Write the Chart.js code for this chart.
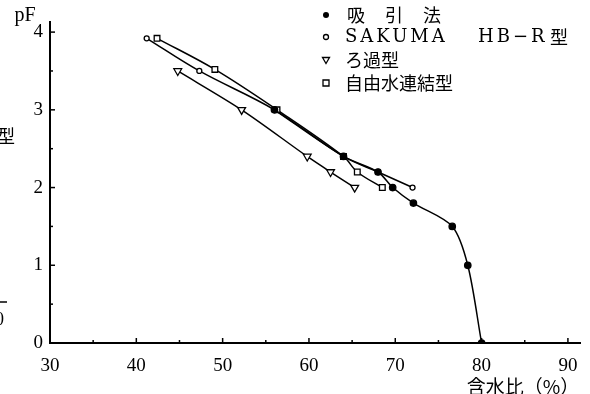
<!DOCTYPE html>
<html>
<head>
<meta charset="utf-8">
<script src="https://cdn.jsdelivr.net/npm/chart.js@4"></script>
<style>
body { margin: 0; background: #fff; }
</style>
</head>
<body>
<canvas id="myChart" width="590" height="394"></canvas>
<script>
// 含水比 (%) と pF
const seriesNames = ["吸　引　法", "SAKUMA　HB−R型", "ろ過型", "自由水連結型"];

const suctionX = [56, 64, 68, 69.7, 72.1, 76.6, 78.4, 80];
const suctionY = [3.0, 2.4, 2.2, 2.0, 1.8, 1.5, 1.0, 0];

const sakumaX = [41.2, 47.3, 56, 64, 68, 72];
const sakumaY = [3.92, 3.5, 3.0, 2.4, 2.2, 2.0];

const filterX = [44.8, 52.2, 59.8, 62.5, 65.3];
const filterY = [3.5, 3.0, 2.4, 2.2, 2.0];

const freeX = [42.4, 49.1, 56.3, 64, 65.6, 68.5];
const freeY = [3.92, 3.52, 3.0, 2.4, 2.2, 2.0];

const xTicks = [30, 40, 50, 60, 70, 80, 90];
const yTicks = [0, 1, 2, 3, 4];

const toPoints = (xs, ys) => xs.map((x, i) => ({x: x, y: ys[i]}));

const serif = "'Liberation Serif', 'DejaVu Serif', serif";
const cjk = "'Noto Sans CJK JP', sans-serif";

// legend text pieces: [text, x offset, font, letter spacing]
const legendPieces = [
    [["吸", 2, cjk, 0], ["引", 40, cjk, 0], ["法", 78, cjk, 0]],
    [["SAKUMA", 0, "'DejaVu Serif', serif", 3], ["HB−R", 133, "'DejaVu Serif', serif", 3], ["型", 205, cjk, 0]],
    [["ろ過型", 0, cjk, 0]],
    [["自由水連結型", 0, cjk, 0]]
];

// inward ticks, legend, axis titles
const decor = {
    id: "decor",
    afterDraw(chart) {
        const ctx = chart.ctx;
        const xs = chart.scales.x, ys = chart.scales.y;
        ctx.save();
        ctx.strokeStyle = "#000";
        ctx.lineWidth = 1.5;
        for (let v = 35; v <= 90; v += 5) {
            const px = xs.getPixelForValue(v);
            const len = v % 10 === 0 ? 5 : 3;
            ctx.beginPath();
            ctx.moveTo(px, ys.bottom);
            ctx.lineTo(px, ys.bottom - len);
            ctx.stroke();
        }
        for (let v = 0.5; v <= 4; v += 0.5) {
            const py = ys.getPixelForValue(v);
            const len = v % 1 === 0 ? 5 : 3;
            ctx.beginPath();
            ctx.moveTo(xs.left, py);
            ctx.lineTo(xs.left + len, py);
            ctx.stroke();
        }

        // legend
        const lx = 326, tx = 345;
        const rows = [15, 37, 60, 83];
        ctx.fillStyle = "#000";
        ctx.textBaseline = "middle";
        ctx.textAlign = "left";
        chart.data.datasets.forEach((ds, i) => {
            const y = rows[i];
            ctx.lineWidth = 1.3;
            ctx.beginPath();
            if (i === 0) {
                ctx.arc(lx, y, 3, 0, Math.PI * 2);
                ctx.fill();
            } else if (i === 1) {
                ctx.arc(lx, y, 2.5, 0, Math.PI * 2);
                ctx.stroke();
            } else if (i === 2) {
                ctx.moveTo(lx - 3.5, y - 2.5);
                ctx.lineTo(lx + 3.5, y - 2.5);
                ctx.lineTo(lx, y + 3.5);
                ctx.closePath();
                ctx.stroke();
            } else {
                ctx.rect(lx - 3, y - 3, 6, 6);
                ctx.stroke();
            }
            legendPieces[i].forEach(p => {
                ctx.font = "18px " + p[2];
                ctx.letterSpacing = p[3] + "px";
                ctx.fillText(p[0], tx + p[1], y);
            });
            ctx.letterSpacing = "0px";
        });

        // axis titles
        ctx.font = "20px " + serif;
        ctx.textAlign = "center";
        ctx.fillText("pF", 25, 16);
        ctx.font = "19px " + cjk;
        ctx.fillText("含水比（%）", 523, 387);

        // cut-off bits of the neighbouring figure
        ctx.textAlign = "left";
        ctx.font = "18px " + cjk;
        ctx.fillText("型", -3, 136);
        ctx.font = "18px " + serif;
        ctx.fillText("0", -5, 320);
        ctx.lineWidth = 1.5;
        ctx.beginPath();
        ctx.moveTo(0, 302);
        ctx.lineTo(7, 302);
        ctx.stroke();
        ctx.restore();
    }
};

const lineSet = (label, pts, style, radius, fill, tension) => ({
    label: label,
    data: pts,
    borderColor: "#000",
    borderWidth: 1.5,
    tension: tension,
    pointStyle: style,
    pointRadius: radius,
    pointBorderWidth: 1.3,
    pointBorderColor: "#000",
    pointBackgroundColor: fill,
    pointRotation: style === "triangle" ? 180 : 0
});

const config = {
    type: "line",
    data: {
        datasets: [
            lineSet(seriesNames[0], toPoints(suctionX, suctionY), "circle", 3.2, "#000", 0.3),
            lineSet(seriesNames[1], toPoints(sakumaX, sakumaY), "circle", 2.5, "#fff", 0.35),
            lineSet(seriesNames[2], toPoints(filterX, filterY), "triangle", 4.5, "#fff", 0.3),
            lineSet(seriesNames[3], toPoints(freeX, freeY), "rect", 4, "#fff", 0.35)
        ]
    },
    options: {
        responsive: false,
        devicePixelRatio: 1,
        animation: false,
        layout: {padding: {left: 0, right: 10, top: 22, bottom: 0}},
        plugins: {legend: {display: false}, tooltip: {enabled: false}},
        scales: {
            x: {
                type: "linear",
                min: 30,
                max: 91.4,
                afterBuildTicks: s => { s.ticks = xTicks.map(v => ({value: v})); },
                afterFit: s => { s.height = 51; },
                grid: {display: false, drawTicks: false},
                border: {display: true, color: "#000", width: 2},
                ticks: {color: "#000", padding: 12, maxRotation: 0,
                    font: {family: serif, size: 19}}
            },
            y: {
                type: "linear",
                min: 0,
                max: 4.13,
                afterBuildTicks: s => { s.ticks = yTicks.map(v => ({value: v})); },
                afterFit: s => { s.width = 50; },
                grid: {display: false, drawTicks: false},
                border: {display: true, color: "#000", width: 2},
                ticks: {color: "#000", padding: 7,
                    font: {family: serif, size: 19}}
            }
        }
    },
    plugins: [decor]
};

new Chart("myChart", config);
</script>
</body>
</html>
